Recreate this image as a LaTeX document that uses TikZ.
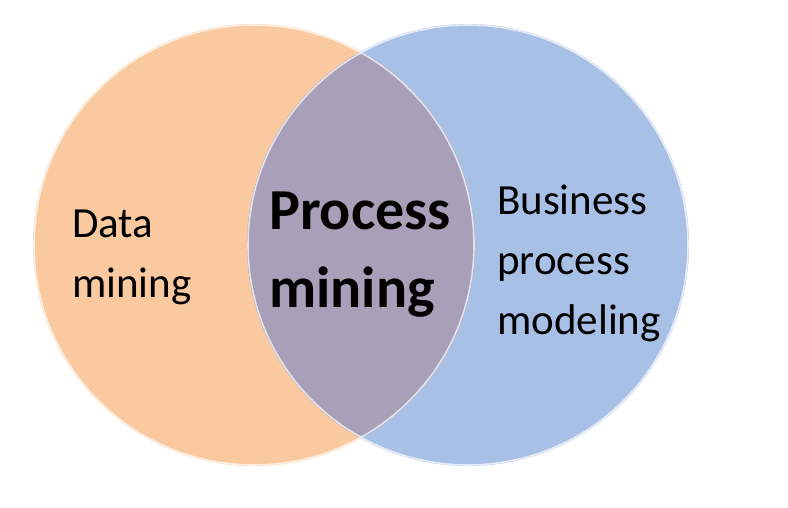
\documentclass[tikz,border=0pt]{standalone}
\usepackage{fontspec}
\setmainfont{Carlito}
\definecolor{orangefill}{RGB}{250,201,160}
\definecolor{bluefill}{RGB}{168,192,229}
\definecolor{overlapfill}{RGB}{168,160,184}
\tikzset{
  setcircle/.style={circle, minimum size=442pt, inner sep=0pt},
  rim/.style={draw=white, draw opacity=0.7, line width=1.6pt},
  plainlabel/.style={inner sep=0pt, align=left, text=black, font=\fontsize{43}{60}\selectfont},
  boldlabel/.style={inner sep=0pt, align=left, text=black, font=\fontsize{58}{78}\selectfont\bfseries},
}
\begin{document}
\begin{tikzpicture}[x=1pt,y=1pt]
\useasboundingbox (0,0) rectangle (788,507);
\fill[white] (0,0) rectangle (788,507);
% circles
\node[setcircle, fill=orangefill] (left) at (254,262) {};
\node[setcircle, fill=bluefill] (right) at (468,262) {};
\begin{scope}
  \clip (254,262) circle (221);
  \fill[overlapfill] (468,262) circle (221);
\end{scope}
\draw[rim] (254,262) circle (220);
\draw[rim] (468,262) circle (220);
% labels
\node[plainlabel, anchor=north west] (dm) at (72,297) {Data\\mining};
\node[boldlabel, anchor=north west] (pm) at (269,315) {Process\\mining};
\node[plainlabel, anchor=north west] (bpm) at (497,322) {Business\\process\\modeling};
\end{tikzpicture}
\end{document}
